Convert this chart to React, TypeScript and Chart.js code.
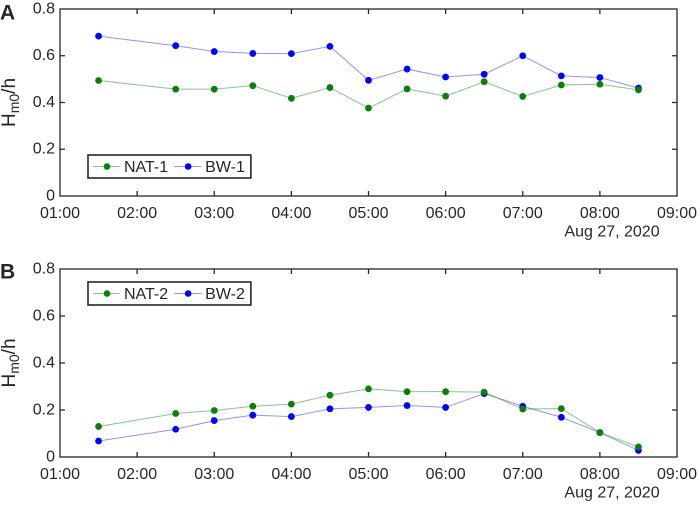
import React, { useEffect, useRef } from "react";
import { Chart, registerables } from "chart.js";

Chart.register(...registerables);

// ---- Data ----
const times = ["01:30", "02:30", "03:00", "03:30", "04:00", "04:30", "05:00", "05:30", "06:00", "06:30", "07:00", "07:30", "08:00", "08:30"];
const nat1 = [0.494, 0.457, 0.457, 0.472, 0.418, 0.464, 0.376, 0.458, 0.427, 0.489, 0.426, 0.475, 0.478, 0.454];
const bw1 = [0.684, 0.643, 0.618, 0.61, 0.609, 0.64, 0.495, 0.543, 0.509, 0.521, 0.6, 0.514, 0.507, 0.462];
const nat2 = [0.13, 0.185, 0.198, 0.216, 0.225, 0.263, 0.29, 0.278, 0.278, 0.276, 0.204, 0.206, 0.104, 0.043];
const bw2 = [0.068, 0.118, 0.155, 0.178, 0.172, 0.205, 0.211, 0.219, 0.211, 0.27, 0.216, 0.169, 0.104, 0.028];
const xTickLabels = ["01:00", "02:00", "03:00", "04:00", "05:00", "06:00", "07:00", "08:00", "09:00"];
const yTickLabels = ["0", "0.2", "0.4", "0.6", "0.8"];
const dateLabel = "Aug 27, 2020";
const namesA = ["NAT-1", "BW-1"];
const namesB = ["NAT-2", "BW-2"];

const FONT = "'Liberation Sans', Arial, Helvetica, sans-serif";
const AXIS = "#262626";
const GREEN = "#0a800a";
const GREEN_LINE = "rgba(20,140,20,0.5)";
const BLUE = "#0000ff";
const BLUE_LINE = "rgba(40,40,255,0.5)";

const toHours = (t: string) => {
  const [h, m] = t.split(":").map(Number);
  return h + m / 60;
};

const decorPlugin = {
  id: "decor",
  afterDraw(chart: any, _args: any, opts: any) {
    const { ctx, chartArea: ca, scales } = chart;
    const x = scales.x;
    const y = scales.y;
    ctx.save();
    // frame
    ctx.strokeStyle = AXIS;
    ctx.lineWidth = 1.3;
    ctx.strokeRect(ca.left, ca.top, ca.right - ca.left, ca.bottom - ca.top);
    // inward ticks
    ctx.beginPath();
    const tl = 5;
    x.ticks.forEach((t: any) => {
      const px = x.getPixelForValue(t.value);
      if (px > ca.left + 1 && px < ca.right - 1) {
        ctx.moveTo(px, ca.bottom);
        ctx.lineTo(px, ca.bottom - tl);
        ctx.moveTo(px, ca.top);
        ctx.lineTo(px, ca.top + tl);
      }
    });
    y.ticks.forEach((t: any) => {
      const py = y.getPixelForValue(t.value);
      if (py > ca.top + 1 && py < ca.bottom - 1) {
        ctx.moveTo(ca.left, py);
        ctx.lineTo(ca.left + tl, py);
        ctx.moveTo(ca.right, py);
        ctx.lineTo(ca.right - tl, py);
      }
    });
    ctx.stroke();

    // y-axis title H_m0/h
    ctx.fillStyle = AXIS;
    ctx.save();
    ctx.translate(15, (ca.top + ca.bottom) / 2);
    ctx.rotate(-Math.PI / 2);
    ctx.textBaseline = "alphabetic";
    ctx.textAlign = "left";
    const big = `19px ${FONT}`;
    const small = `14px ${FONT}`;
    ctx.font = big;
    const wH = ctx.measureText("H").width;
    const wh = ctx.measureText("/h").width;
    ctx.font = small;
    const wm = ctx.measureText("m0").width;
    let sx = -(wH + wm + wh) / 2;
    ctx.font = big;
    ctx.fillText("H", sx, 0);
    sx += wH;
    ctx.font = small;
    ctx.fillText("m0", sx, 4);
    sx += wm;
    ctx.font = big;
    ctx.fillText("/h", sx, 0);
    ctx.restore();

    // date label
    ctx.font = `16px ${FONT}`;
    ctx.textAlign = "center";
    ctx.textBaseline = "middle";
    ctx.fillText(dateLabel, ca.right - 65, ca.bottom + 36);

    // panel label
    ctx.font = `bold 21px ${FONT}`;
    ctx.textAlign = "left";
    ctx.textBaseline = "top";
    ctx.fillText(opts.panel, 0, opts.panelY);

    // legend
    const ds = chart.data.datasets;
    ctx.font = `16px ${FONT}`;
    const bx = ca.left + 28;
    const bh = 23;
    const by = opts.legendTop != null ? ca.top + opts.legendTop : ca.bottom - opts.legendBottom - bh;
    let cx = bx + 5;
    const items: any[] = [];
    ds.forEach((d: any) => {
      const tw = ctx.measureText(d.label).width;
      items.push({ d, x0: cx, tx: cx + 31, tw });
      cx = cx + 31 + tw + 6;
    });
    const bw = cx - bx;
    ctx.fillStyle = "#ffffff";
    ctx.fillRect(bx, by, bw, bh);
    ctx.strokeStyle = AXIS;
    ctx.lineWidth = 1.6;
    ctx.strokeRect(bx, by, bw, bh);
    const my = by + bh / 2;
    items.forEach((it) => {
      ctx.strokeStyle = it.d.borderColor;
      ctx.lineWidth = 1;
      ctx.beginPath();
      ctx.moveTo(it.x0, my);
      ctx.lineTo(it.x0 + 27, my);
      ctx.stroke();
      ctx.fillStyle = it.d.pointBackgroundColor;
      ctx.beginPath();
      ctx.arc(it.x0 + 14, my, 3.3, 0, Math.PI * 2);
      ctx.fill();
      ctx.fillStyle = AXIS;
      ctx.textBaseline = "middle";
      ctx.fillText(it.d.label, it.tx, my + 1);
    });
    ctx.restore();
  },
};

function makeConfig(a: number[], b: number[], names: string[], layout: any, decor: any) {
  const mk = (vals: number[], name: string, line: string, pt: string) => ({
    label: name,
    data: vals.map((v, i) => ({ x: toHours(times[i]), y: v })),
    borderColor: line,
    backgroundColor: pt,
    pointBackgroundColor: pt,
    pointBorderWidth: 0,
    pointRadius: 3.4,
    borderWidth: 1,
    tension: 0,
  });
  return {
    type: "line" as const,
    data: {
      datasets: [mk(a, names[0], GREEN_LINE, GREEN), mk(b, names[1], BLUE_LINE, BLUE)],
    },
    options: {
      animation: false,
      responsive: false,
      devicePixelRatio: 2,
      layout: { padding: { left: 0, right: 22, top: layout.top, bottom: 0 } },
      plugins: {
        legend: { display: false },
        tooltip: { enabled: false },
        decor,
      },
      scales: {
        x: {
          type: "linear",
          min: 1,
          max: 9,
          grid: { display: false, drawTicks: false },
          border: { display: false },
          ticks: {
            stepSize: 1,
            padding: 8,
            color: AXIS,
            font: { family: FONT, size: 16 },
            maxRotation: 0,
            autoSkip: false,
            callback: (v: any) => xTickLabels[Math.round(Number(v)) - 1] ?? "",
          },
          afterFit: (s: any) => {
            s.height = layout.xh;
            s.paddingLeft = 0;
            s.paddingRight = 0;
          },
        },
        y: {
          type: "linear",
          min: 0,
          max: 0.8,
          grid: { display: false, drawTicks: false },
          border: { display: false },
          ticks: {
            stepSize: 0.2,
            padding: 5,
            color: AXIS,
            font: { family: FONT, size: 16 },
            callback: (v: any) => yTickLabels[Math.round(Number(v) / 0.2)] ?? "",
          },
          afterFit: (s: any) => {
            s.width = 60;
            s.paddingTop = 0;
            s.paddingBottom = 0;
          },
        },
      },
    },
    plugins: [decorPlugin],
  };
}

function Panel({ top, height, a, b, names, layout, decor }: any) {
  const ref = useRef<HTMLCanvasElement | null>(null);
  useEffect(() => {
    if (!ref.current) return;
    const chart = new Chart(ref.current, makeConfig(a, b, names, layout, decor) as any);
    return () => chart.destroy();
  }, []);
  return (
    <canvas
      ref={ref}
      width={699}
      height={height}
      style={{ position: "absolute", left: 0, top, width: 699, height }}
    />
  );
}

export default function App() {
  return (
    <div style={{ position: "absolute", left: 0, top: 0, width: 699, height: 505, background: "#fff" }}>
      <Panel
        top={0}
        height={252}
        a={nat1}
        b={bw1}
        names={namesA}
        layout={{ top: 9, xh: 56 }}
        decor={{ panel: "A", panelY: 3, legendBottom: 18 }}
      />
      <Panel
        top={252}
        height={253}
        a={nat2}
        b={bw2}
        names={namesB}
        layout={{ top: 17, xh: 48 }}
        decor={{ panel: "B", panelY: 10, legendTop: 13 }}
      />
    </div>
  );
}
